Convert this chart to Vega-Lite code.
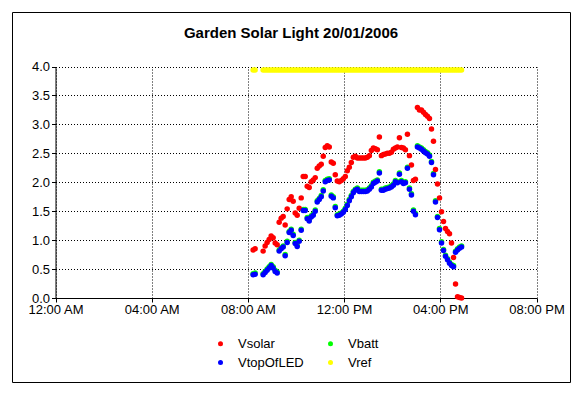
{
  "$schema": "https://vega.github.io/schema/vega-lite/v6.json",
  "width": 558,
  "height": 370,
  "autosize": {"type": "none"},
  "padding": {"left": 12, "top": 12, "right": 12, "bottom": 12},
  "background": "#FFFFFF",
  "title": {"text": "Garden Solar Light 20/01/2006", "font": "Liberation Sans", "fontSize": 15, "fontWeight": "bold", "color": "#000000", "anchor": "middle", "offset": -29},
  "data": {"values": [
    {"t": "2006-01-20T08:13:00", "Vsolar": 0.83, "VtopOfLED": 0.40, "Vbatt": 0.42, "Vref": 3.94},
    {"t": "2006-01-20T08:18:00", "Vsolar": 0.85, "VtopOfLED": 0.41, "Vbatt": 0.43, "Vref": 3.94},
    {"t": "2006-01-20T08:38:00", "Vsolar": 0.81, "VtopOfLED": 0.40, "Vbatt": 0.42, "Vref": 3.94},
    {"t": "2006-01-20T08:43:00", "Vsolar": 0.90, "VtopOfLED": 0.44, "Vbatt": 0.46, "Vref": 3.94},
    {"t": "2006-01-20T08:48:00", "Vsolar": 0.96, "VtopOfLED": 0.48, "Vbatt": 0.50, "Vref": 3.94},
    {"t": "2006-01-20T08:53:00", "Vsolar": 1.01, "VtopOfLED": 0.52, "Vbatt": 0.54, "Vref": 3.94},
    {"t": "2006-01-20T08:58:00", "Vsolar": 1.07, "VtopOfLED": 0.56, "Vbatt": 0.58, "Vref": 3.94},
    {"t": "2006-01-20T09:03:00", "Vsolar": 1.04, "VtopOfLED": 0.52, "Vbatt": 0.54, "Vref": 3.94},
    {"t": "2006-01-20T09:08:00", "Vsolar": 0.95, "VtopOfLED": 0.46, "Vbatt": 0.48, "Vref": 3.94},
    {"t": "2006-01-20T09:13:00", "Vsolar": 0.92, "VtopOfLED": 0.43, "Vbatt": 0.45, "Vref": 3.94},
    {"t": "2006-01-20T09:18:00", "Vsolar": 1.31, "VtopOfLED": 0.81, "Vbatt": 0.83, "Vref": 3.94},
    {"t": "2006-01-20T09:23:00", "Vsolar": 1.38, "VtopOfLED": 0.85, "Vbatt": 0.87, "Vref": 3.94},
    {"t": "2006-01-20T09:28:00", "Vsolar": 1.41, "VtopOfLED": 0.88, "Vbatt": 0.90, "Vref": 3.94},
    {"t": "2006-01-20T09:33:00", "Vsolar": 1.26, "VtopOfLED": 0.73, "Vbatt": 0.75, "Vref": 3.94},
    {"t": "2006-01-20T09:38:00", "Vsolar": 1.54, "VtopOfLED": 0.96, "Vbatt": 0.98, "Vref": 3.94},
    {"t": "2006-01-20T09:43:00", "Vsolar": 1.70, "VtopOfLED": 1.13, "Vbatt": 1.15, "Vref": 3.94},
    {"t": "2006-01-20T09:48:00", "Vsolar": 1.75, "VtopOfLED": 1.17, "Vbatt": 1.19, "Vref": 3.94},
    {"t": "2006-01-20T09:53:00", "Vsolar": 1.67, "VtopOfLED": 1.08, "Vbatt": 1.10, "Vref": 3.94},
    {"t": "2006-01-20T09:58:00", "Vsolar": 1.47, "VtopOfLED": 0.94, "Vbatt": 0.96, "Vref": 3.94},
    {"t": "2006-01-20T10:03:00", "Vsolar": 1.43, "VtopOfLED": 0.89, "Vbatt": 0.91, "Vref": 3.94},
    {"t": "2006-01-20T10:08:00", "Vsolar": 1.55, "VtopOfLED": 0.98, "Vbatt": 1.00, "Vref": 3.94},
    {"t": "2006-01-20T10:13:00", "Vsolar": 1.73, "VtopOfLED": 1.17, "Vbatt": 1.19, "Vref": 3.94},
    {"t": "2006-01-20T10:18:00", "Vsolar": 2.10, "VtopOfLED": 1.51, "Vbatt": 1.53, "Vref": 3.94},
    {"t": "2006-01-20T10:23:00", "Vsolar": 2.10, "VtopOfLED": 1.51, "Vbatt": 1.53, "Vref": 3.94},
    {"t": "2006-01-20T10:28:00", "Vsolar": 1.93, "VtopOfLED": 1.37, "Vbatt": 1.39, "Vref": 3.94},
    {"t": "2006-01-20T10:33:00", "Vsolar": 1.91, "VtopOfLED": 1.33, "Vbatt": 1.35, "Vref": 3.94},
    {"t": "2006-01-20T10:38:00", "Vsolar": 2.01, "VtopOfLED": 1.40, "Vbatt": 1.42, "Vref": 3.94},
    {"t": "2006-01-20T10:43:00", "Vsolar": 2.04, "VtopOfLED": 1.43, "Vbatt": 1.45, "Vref": 3.94},
    {"t": "2006-01-20T10:48:00", "Vsolar": 2.08, "VtopOfLED": 1.50, "Vbatt": 1.52, "Vref": 3.94},
    {"t": "2006-01-20T10:53:00", "Vsolar": 2.24, "VtopOfLED": 1.66, "Vbatt": 1.68, "Vref": 3.94},
    {"t": "2006-01-20T10:58:00", "Vsolar": 2.28, "VtopOfLED": 1.70, "Vbatt": 1.72, "Vref": 3.94},
    {"t": "2006-01-20T11:03:00", "Vsolar": 2.31, "VtopOfLED": 1.75, "Vbatt": 1.77, "Vref": 3.94},
    {"t": "2006-01-20T11:08:00", "Vsolar": 2.45, "VtopOfLED": 1.85, "Vbatt": 1.87, "Vref": 3.94},
    {"t": "2006-01-20T11:13:00", "Vsolar": 2.60, "VtopOfLED": 2.01, "Vbatt": 2.03, "Vref": 3.94},
    {"t": "2006-01-20T11:18:00", "Vsolar": 2.63, "VtopOfLED": 2.03, "Vbatt": 2.05, "Vref": 3.94},
    {"t": "2006-01-20T11:23:00", "Vsolar": 2.61, "VtopOfLED": 2.04, "Vbatt": 2.06, "Vref": 3.94},
    {"t": "2006-01-20T11:28:00", "Vsolar": 2.35, "VtopOfLED": 1.76, "Vbatt": 1.78, "Vref": 3.94},
    {"t": "2006-01-20T11:33:00", "Vsolar": 2.33, "VtopOfLED": 1.73, "Vbatt": 1.75, "Vref": 3.94},
    {"t": "2006-01-20T11:38:00", "Vsolar": 2.13, "VtopOfLED": 1.56, "Vbatt": 1.58, "Vref": 3.94},
    {"t": "2006-01-20T11:43:00", "Vsolar": 2.02, "VtopOfLED": 1.42, "Vbatt": 1.44, "Vref": 3.94},
    {"t": "2006-01-20T11:48:00", "Vsolar": 2.01, "VtopOfLED": 1.43, "Vbatt": 1.45, "Vref": 3.94},
    {"t": "2006-01-20T11:53:00", "Vsolar": 2.03, "VtopOfLED": 1.45, "Vbatt": 1.47, "Vref": 3.94},
    {"t": "2006-01-20T11:58:00", "Vsolar": 2.06, "VtopOfLED": 1.48, "Vbatt": 1.50, "Vref": 3.94},
    {"t": "2006-01-20T12:03:00", "Vsolar": 2.10, "VtopOfLED": 1.53, "Vbatt": 1.55, "Vref": 3.94},
    {"t": "2006-01-20T12:08:00", "Vsolar": 2.20, "VtopOfLED": 1.60, "Vbatt": 1.62, "Vref": 3.94},
    {"t": "2006-01-20T12:13:00", "Vsolar": 2.26, "VtopOfLED": 1.68, "Vbatt": 1.70, "Vref": 3.94},
    {"t": "2006-01-20T12:18:00", "Vsolar": 2.34, "VtopOfLED": 1.75, "Vbatt": 1.77, "Vref": 3.94},
    {"t": "2006-01-20T12:23:00", "Vsolar": 2.43, "VtopOfLED": 1.82, "Vbatt": 1.84, "Vref": 3.94},
    {"t": "2006-01-20T12:28:00", "Vsolar": 2.45, "VtopOfLED": 1.86, "Vbatt": 1.88, "Vref": 3.94},
    {"t": "2006-01-20T12:33:00", "Vsolar": 2.42, "VtopOfLED": 1.88, "Vbatt": 1.90, "Vref": 3.94},
    {"t": "2006-01-20T12:38:00", "Vsolar": 2.42, "VtopOfLED": 1.84, "Vbatt": 1.86, "Vref": 3.94},
    {"t": "2006-01-20T12:43:00", "Vsolar": 2.42, "VtopOfLED": 1.84, "Vbatt": 1.86, "Vref": 3.94},
    {"t": "2006-01-20T12:48:00", "Vsolar": 2.42, "VtopOfLED": 1.84, "Vbatt": 1.86, "Vref": 3.94},
    {"t": "2006-01-20T12:53:00", "Vsolar": 2.42, "VtopOfLED": 1.84, "Vbatt": 1.86, "Vref": 3.94},
    {"t": "2006-01-20T12:58:00", "Vsolar": 2.43, "VtopOfLED": 1.85, "Vbatt": 1.87, "Vref": 3.94},
    {"t": "2006-01-20T13:03:00", "Vsolar": 2.46, "VtopOfLED": 1.88, "Vbatt": 1.90, "Vref": 3.94},
    {"t": "2006-01-20T13:08:00", "Vsolar": 2.55, "VtopOfLED": 1.92, "Vbatt": 1.94, "Vref": 3.94},
    {"t": "2006-01-20T13:13:00", "Vsolar": 2.59, "VtopOfLED": 1.98, "Vbatt": 2.00, "Vref": 3.94},
    {"t": "2006-01-20T13:18:00", "Vsolar": 2.58, "VtopOfLED": 2.00, "Vbatt": 2.02, "Vref": 3.94},
    {"t": "2006-01-20T13:23:00", "Vsolar": 2.56, "VtopOfLED": 2.02, "Vbatt": 2.04, "Vref": 3.94},
    {"t": "2006-01-20T13:28:00", "Vsolar": 2.78, "VtopOfLED": 2.16, "Vbatt": 2.18, "Vref": 3.94},
    {"t": "2006-01-20T13:33:00", "Vsolar": 2.46, "VtopOfLED": 1.86, "Vbatt": 1.88, "Vref": 3.94},
    {"t": "2006-01-20T13:38:00", "Vsolar": 2.48, "VtopOfLED": 1.86, "Vbatt": 1.88, "Vref": 3.94},
    {"t": "2006-01-20T13:43:00", "Vsolar": 2.49, "VtopOfLED": 1.88, "Vbatt": 1.90, "Vref": 3.94},
    {"t": "2006-01-20T13:48:00", "Vsolar": 2.50, "VtopOfLED": 1.89, "Vbatt": 1.91, "Vref": 3.94},
    {"t": "2006-01-20T13:53:00", "Vsolar": 2.50, "VtopOfLED": 1.90, "Vbatt": 1.92, "Vref": 3.94},
    {"t": "2006-01-20T13:58:00", "Vsolar": 2.52, "VtopOfLED": 1.92, "Vbatt": 1.94, "Vref": 3.94},
    {"t": "2006-01-20T14:03:00", "Vsolar": 2.57, "VtopOfLED": 1.95, "Vbatt": 1.97, "Vref": 3.94},
    {"t": "2006-01-20T14:08:00", "Vsolar": 2.59, "VtopOfLED": 2.01, "Vbatt": 2.03, "Vref": 3.94},
    {"t": "2006-01-20T14:13:00", "Vsolar": 2.61, "VtopOfLED": 1.99, "Vbatt": 2.01, "Vref": 3.94},
    {"t": "2006-01-20T14:18:00", "Vsolar": 2.77, "VtopOfLED": 2.14, "Vbatt": 2.16, "Vref": 3.94},
    {"t": "2006-01-20T14:23:00", "Vsolar": 2.60, "VtopOfLED": 2.01, "Vbatt": 2.03, "Vref": 3.94},
    {"t": "2006-01-20T14:28:00", "Vsolar": 2.59, "VtopOfLED": 1.98, "Vbatt": 2.00, "Vref": 3.94},
    {"t": "2006-01-20T14:33:00", "Vsolar": 2.56, "VtopOfLED": 1.99, "Vbatt": 2.01, "Vref": 3.94},
    {"t": "2006-01-20T14:38:00", "Vsolar": 2.83, "VtopOfLED": 2.24, "Vbatt": 2.26, "Vref": 3.94},
    {"t": "2006-01-20T14:43:00", "Vsolar": 2.46, "VtopOfLED": 1.88, "Vbatt": 1.90, "Vref": 3.94},
    {"t": "2006-01-20T14:48:00", "Vsolar": 2.30, "VtopOfLED": 1.78, "Vbatt": 1.80, "Vref": 3.94},
    {"t": "2006-01-20T14:53:00", "Vsolar": 2.03, "VtopOfLED": 1.50, "Vbatt": 1.52, "Vref": 3.94},
    {"t": "2006-01-20T14:58:00", "Vsolar": 2.05, "VtopOfLED": 1.44, "Vbatt": 1.46, "Vref": 3.94},
    {"t": "2006-01-20T15:03:00", "Vsolar": 3.29, "VtopOfLED": 2.61, "Vbatt": 2.63, "Vref": 3.94},
    {"t": "2006-01-20T15:08:00", "Vsolar": 3.25, "VtopOfLED": 2.59, "Vbatt": 2.61, "Vref": 3.94},
    {"t": "2006-01-20T15:13:00", "Vsolar": 3.25, "VtopOfLED": 2.57, "Vbatt": 2.59, "Vref": 3.94},
    {"t": "2006-01-20T15:18:00", "Vsolar": 3.21, "VtopOfLED": 2.54, "Vbatt": 2.56, "Vref": 3.94},
    {"t": "2006-01-20T15:23:00", "Vsolar": 3.17, "VtopOfLED": 2.51, "Vbatt": 2.53, "Vref": 3.94},
    {"t": "2006-01-20T15:28:00", "Vsolar": 3.14, "VtopOfLED": 2.49, "Vbatt": 2.51, "Vref": 3.94},
    {"t": "2006-01-20T15:33:00", "Vsolar": 3.10, "VtopOfLED": 2.45, "Vbatt": 2.47, "Vref": 3.94},
    {"t": "2006-01-20T15:38:00", "Vsolar": 2.92, "VtopOfLED": 2.34, "Vbatt": 2.36, "Vref": 3.94},
    {"t": "2006-01-20T15:43:00", "Vsolar": 2.71, "VtopOfLED": 2.13, "Vbatt": 2.15, "Vref": 3.94},
    {"t": "2006-01-20T15:48:00", "Vsolar": 2.22, "VtopOfLED": 1.66, "Vbatt": 1.68, "Vref": 3.94},
    {"t": "2006-01-20T15:53:00", "Vsolar": 1.97, "VtopOfLED": 1.39, "Vbatt": 1.41, "Vref": 3.94},
    {"t": "2006-01-20T15:58:00", "Vsolar": 1.73, "VtopOfLED": 1.18, "Vbatt": 1.20, "Vref": 3.94},
    {"t": "2006-01-20T16:03:00", "Vsolar": 1.49, "VtopOfLED": 0.95, "Vbatt": 0.97, "Vref": 3.94},
    {"t": "2006-01-20T16:08:00", "Vsolar": 1.32, "VtopOfLED": 0.82, "Vbatt": 0.84, "Vref": 3.94},
    {"t": "2006-01-20T16:13:00", "Vsolar": 1.20, "VtopOfLED": 0.72, "Vbatt": 0.74, "Vref": 3.94},
    {"t": "2006-01-20T16:18:00", "Vsolar": 1.15, "VtopOfLED": 0.66, "Vbatt": 0.68, "Vref": 3.94},
    {"t": "2006-01-20T16:23:00", "Vsolar": 1.11, "VtopOfLED": 0.60, "Vbatt": 0.62, "Vref": 3.94},
    {"t": "2006-01-20T16:28:00", "Vsolar": 0.95, "VtopOfLED": 0.56, "Vbatt": 0.58, "Vref": 3.94},
    {"t": "2006-01-20T16:33:00", "Vsolar": 0.70, "VtopOfLED": 0.54, "Vbatt": 0.56, "Vref": 3.94},
    {"t": "2006-01-20T16:38:00", "Vsolar": 0.24, "VtopOfLED": 0.79, "Vbatt": 0.81, "Vref": 3.94},
    {"t": "2006-01-20T16:43:00", "Vsolar": 0.02, "VtopOfLED": 0.83, "Vbatt": 0.85, "Vref": 3.94},
    {"t": "2006-01-20T16:48:00", "Vsolar": 0.01, "VtopOfLED": 0.86, "Vbatt": 0.88, "Vref": 3.94},
    {"t": "2006-01-20T16:53:00", "Vsolar": 0.00, "VtopOfLED": 0.88, "Vbatt": 0.90, "Vref": 3.94}
  ]},
  "transform": [{"fold": ["Vsolar", "VtopOfLED", "Vbatt", "Vref"], "as": ["series", "value"]}],
  "encoding": {
    "y": {
      "field": "value", "type": "quantitative",
      "scale": {"domain": [0, 4], "range": [286, 54.5], "nice": false, "zero": false},
      "axis": {"title": null, "values": [0, 0.5, 1, 1.5, 2, 2.5, 3, 3.5, 4], "format": ".1f", "offset": -43.5,
               "domainColor": "#000000", "tickColor": "#000000", "tickSize": 4, "labelPadding": 2,
               "labelColor": "#000000", "labelFont": "Liberation Sans", "labelFontSize": 13,
               "grid": true, "gridColor": "#000000", "gridDash": [1, 2], "gridOpacity": 1, "gridWidth": 1}
    },
    "color": {
      "field": "series", "type": "nominal",
      "scale": {"domain": ["Vsolar", "VtopOfLED", "Vbatt", "Vref"], "range": ["#FF0000", "#0000FF", "#00FF00", "#FFFF00"]},
      "legend": {"orient": "none", "legendX": 202, "legendY": 325, "columns": 2, "title": null,
                 "labelFont": "Liberation Sans", "labelFontSize": 13, "labelColor": "#000000",
                 "symbolType": "circle", "symbolSize": 25, "symbolStrokeWidth": 0, "symbolOpacity": 1,
                 "labelOffset": 11, "columnPadding": 20, "rowPadding": 5, "padding": 0}
    }
  },
  "layer": [
    {
      "transform": [{"filter": {"field": "series", "equal": "Vref"}}],
      "mark": {"type": "point", "filled": true, "size": 30, "opacity": 1, "strokeWidth": 0},
      "encoding": {
        "x": {"field": "t", "type": "temporal",
              "scale": {"domain": [{"year": 2006, "month": 1, "date": 20, "hours": 0}, {"year": 2006, "month": 1, "date": 20, "hours": 20}], "range": [43.5, 524.5]},
              "axis": {"orient": "top", "title": null, "labels": false, "ticks": false, "domain": false,
                       "values": [{"year": 2006, "month": 1, "date": 20, "hours": 0}, {"year": 2006, "month": 1, "date": 20, "hours": 4}, {"year": 2006, "month": 1, "date": 20, "hours": 8}, {"year": 2006, "month": 1, "date": 20, "hours": 12}, {"year": 2006, "month": 1, "date": 20, "hours": 16}, {"year": 2006, "month": 1, "date": 20, "hours": 20}],
                       "grid": true, "gridColor": "#000000", "gridDash": [1, 2], "gridOpacity": 1, "gridWidth": 1}}
      }
    },
    {
      "transform": [{"filter": {"field": "series", "oneOf": ["Vsolar", "VtopOfLED", "Vbatt"]}}],
      "mark": {"type": "point", "filled": true, "size": 30, "opacity": 1, "strokeWidth": 0},
      "encoding": {
        "x": {"field": "t", "type": "temporal",
              "axis": {"orient": "bottom", "title": null, "format": "%I:%M %p", "offset": -84,
                       "values": [{"year": 2006, "month": 1, "date": 20, "hours": 0}, {"year": 2006, "month": 1, "date": 20, "hours": 4}, {"year": 2006, "month": 1, "date": 20, "hours": 8}, {"year": 2006, "month": 1, "date": 20, "hours": 12}, {"year": 2006, "month": 1, "date": 20, "hours": 16}, {"year": 2006, "month": 1, "date": 20, "hours": 20}],
                       "grid": false, "domainColor": "#000000", "tickColor": "#000000", "tickSize": 4,
                       "labelColor": "#000000", "labelFont": "Liberation Sans", "labelFontSize": 13,
                       "labelPadding": 1, "labelFlush": false, "labelOverlap": false}},
        "order": {"field": "series", "sort": "ascending"}
      }
    }
  ],
  "resolve": {"axis": {"x": "independent"}},
  "config": {"view": {"stroke": "#000000", "strokeWidth": 1}}
}
